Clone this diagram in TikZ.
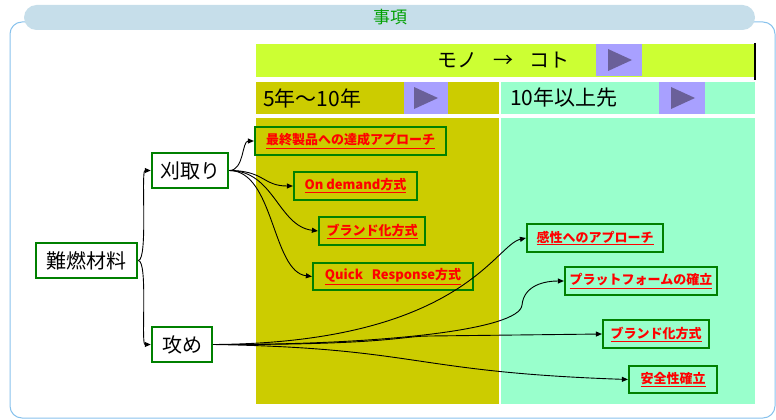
\documentclass[tikz,border=0pt]{standalone}
\usepackage{fontspec}
\setmainfont{Noto Sans CJK JP}
\usetikzlibrary{arrows.meta}
\definecolor{limec}{HTML}{CCFF33}
\definecolor{olivec}{HTML}{CCCC00}
\definecolor{mintc}{HTML}{99FFCC}
\definecolor{purpbox}{HTML}{A8A0FF}
\definecolor{purptri}{HTML}{6A6099}
\definecolor{pillc}{HTML}{C6DEEA}
\definecolor{framec}{HTML}{88C2EC}
\definecolor{nodegreen}{HTML}{008000}
\definecolor{titlegreen}{HTML}{00A000}
\tikzset{
  bignode/.style={draw=nodegreen, line width=2.5pt, fill=white, inner sep=0pt,
    font=\fontsize{20}{22}\selectfont},
  rednode/.style={draw=nodegreen, line width=2.2pt, inner sep=0pt, text=red,
    font=\bfseries\fontsize{13}{15}\selectfont},
  link/.style={line width=0.9pt, -{Triangle[length=6pt,width=5pt]}},
  purpbx/.style={fill=purpbox, draw=none},
  tri/.style={fill=purptri, draw=none},
  rowtext/.style={anchor=west, inner sep=0pt, font=\fontsize{21}{23}\selectfont}
}
\begin{document}
\begin{tikzpicture}[x=1pt,y=-1pt]
\useasboundingbox (0,0) rectangle (776,420);
% frame
\draw[framec, line width=1pt, rounded corners=12pt] (10,22) rectangle (775,418);
\fill[pillc, rounded corners=12.5pt] (24,5) rectangle (755,30);
\node[text=titlegreen, font=\fontsize{17}{19}\selectfont, inner sep=0pt] (title) at (390,17.5) {事項};
% header bar
\fill[limec] (256,44) rectangle (755,77);
\draw[line width=2pt] (755,43) -- (755,80);
\fill[purpbx] (596,44) rectangle (642,76);
\fill[tri] (608,49) -- (632,60) -- (608,71) -- cycle;
\node[inner sep=0pt, font=\fontsize{20}{22}\selectfont] (mono) at (503,60) {モノ\hspace{16pt}→\hspace{16pt}コト};
% second row
\fill[olivec] (256,82) rectangle (499,114);
\fill[mintc] (501,82) rectangle (755,114);
\fill[purpbx] (404,82) rectangle (448,114);
\fill[tri] (414,87) -- (438,98) -- (414,109) -- cycle;
\fill[purpbx] (659,82) rectangle (705,114);
\fill[tri] (671,87) -- (695,98) -- (671,109) -- cycle;
\node[rowtext] (r1) at (263,98) {5年〜10年};
\node[rowtext] (r2) at (510,98) {10年以上先};
% columns
\fill[olivec] (256,118) rectangle (499,404);
\fill[mintc] (501,118) rectangle (755,404);
% main nodes
\node[bignode, minimum width=101pt, minimum height=35pt] (nan) at (86.5,260.5) {難燃材料};
\node[bignode, minimum width=76pt, minimum height=35pt] (kari) at (190,170.5) {刈取り};
\node[bignode, minimum width=60pt, minimum height=35pt] (seme) at (182,344.5) {攻め};
% red nodes
\node[rednode, minimum width=191pt, minimum height=28pt] (saishu) at (350.5,141) {\underline{最終製品への達成アプローチ}};
\node[rednode, minimum width=123pt, minimum height=28pt] (ondem) at (355.5,186) {\underline{On demand方式}};
\node[rednode, minimum width=106pt, minimum height=28pt] (brandA) at (372,231) {\underline{ブランド化方式}};
\node[rednode, minimum width=160pt, minimum height=27pt] (quick) at (393,276.5) {\underline{Quick\ \ \ Response方式}};
\node[rednode, minimum width=136pt, minimum height=28pt] (kansei) at (595,238) {\underline{感性へのアプローチ}};
\node[rednode, minimum width=152pt, minimum height=28pt] (plat) at (641,281) {\underline{プラットフォームの確立}};
\node[rednode, minimum width=106pt, minimum height=28pt] (brandB) at (656,334) {\underline{ブランド化方式}};
\node[rednode, minimum width=88pt, minimum height=27pt] (anzen) at (673,379.5) {\underline{安全性確立}};
% connectors
\draw[link] (nan.east) .. controls +(10,0) and +(-10,0) .. (kari.west);
\draw[link] (nan.east) .. controls +(10,0) and +(-10,0) .. (seme.west);
\draw[link] (kari.east) .. controls +(15,0) and +(-12,0) .. (saishu.west);
\draw[link] (kari.east) .. controls +(35,0) and +(-30,0) .. (ondem.west);
\draw[link] (kari.east) .. controls +(45,0) and +(-40,-5) .. (brandA.west);
\draw[link] (kari.east) .. controls +(45,0) and +(-40,-5) .. (quick.west);
\draw[link] (seme.east) .. controls (460,343) and (495,245) .. (kansei.west);
\draw[link] (seme.east) .. controls (380,345) and (520,330) .. (522,305) .. controls (524,285) and (545,281) .. (plat.west);
\draw[link] (seme.east) .. controls (390,345) and (400,336) .. (430,336) -- (brandB.west);
\draw[link] (seme.east) .. controls (420,348) and (410,372) .. (anzen.west);
\end{tikzpicture}
\end{document}
